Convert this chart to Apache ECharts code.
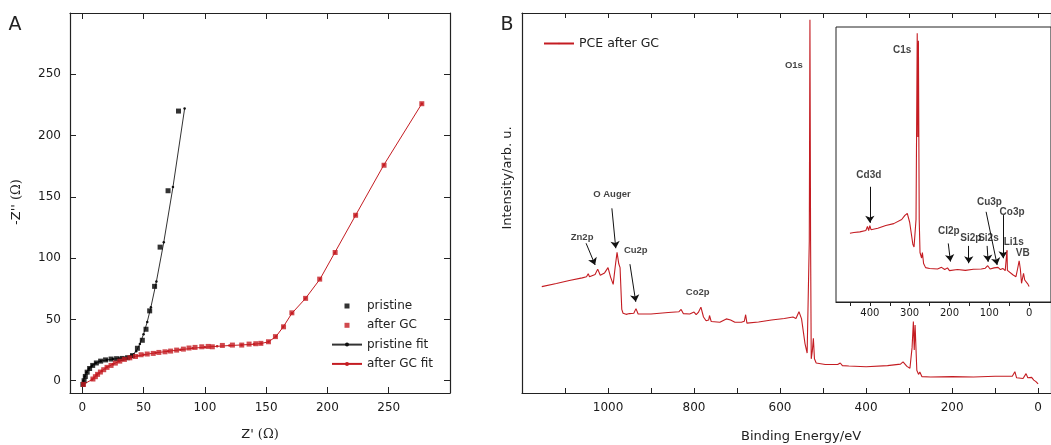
<!DOCTYPE html>
<html><head><meta charset="utf-8">
<script src="https://cdn.jsdelivr.net/npm/echarts@6/dist/echarts.min.js"></script>
<style>html,body{margin:0;padding:0;background:#fff}#c{width:1051px;height:445px}</style>
</head><body><div id="c"></div>
<script>
// ---------- Panel A : Nyquist plot ----------
const aPristineX = [0.5,1.5,2.5,4,6,8.5,11.5,15,19,23.5,28,32.5,37,41,45,49,52,55,59,63.5,70,78.5];
const aPristineY = [-3,0,3.5,7,10,12.5,14.5,16,17,17.7,18,18.2,18.8,20.5,26.5,33,42,57,77,109,155,220];
const aPristineFitX = [0,1,2,3.5,5.5,8,11,15,20,25,30,35,40,44,47,50,53,56,60.5,66.5,74,83.5];
const aPristineFitY = [-3,0,3.5,7,10,12.5,14.5,16,17,17.7,18.2,18.8,20.5,24,30,38,48,60,81,113,158,222];
const aAfterX = [1,8.7,10.7,12.5,14.8,17.5,20.2,23.5,27,30.6,34.4,38.8,43.4,48,53,57.9,62.5,67.5,72.1,77,82.5,87.1,92,97.5,102.7,106.1,114.3,122.5,130.1,136.1,141.6,145.7,151.9,157.6,164.2,171,182.2,193.7,206.3,223,246.2,277];
const aAfterY = [-3,1.4,3.3,5.2,7.1,9,10.9,12.5,14.4,16,17.4,18.7,19.8,21.2,21.8,22.3,23.1,23.6,24.2,25,25.8,26.7,27.2,27.7,28,27.7,28.8,29.1,29.1,29.9,30.2,30.5,31.8,36,44,55.4,67.2,82.9,104.6,135,175.8,226];
const aAfterFitX = [1,8,12,16,20,25,30,35,40,45,50,60,70,80,90,100,110,120,130,140,146,152,158,164,171,182,194,206,223,246,277];
const aAfterFitY = [-3,1,5,8,11,13.5,15.8,17.5,19,20.2,21.2,22.8,24,25.3,26.5,27.4,28.1,28.7,29.2,29.8,30.4,31.8,36,44,55,67,83,104.5,135,176,226];
const aTicks = [0,50,100,150,200,250];

// ---------- Panel B : XPS survey ----------
const bBE = [1154,1120,1090,1060,1050,1046,1043,1030,1024,1018,1008,1000,994,988,983,979,975,972,968,965,958,950,940,935,930,900,860,835,830,825,810,800,795,790,784,778,772,766,764,760,740,725,715,705,690,683,680,677,650,620,590,570,563,556,550,542,537,534,532,530.5,529,527.5,525,522.5,520,516,495,466,460,455,440,400,350,320,314,305,298,293,290,288,286,282,278,275,270,250,200,150,100,60,54,50,35,28,24,20,15,10,5,0];
const bInt = [28.0,28.8,29.6,30.3,30.6,31.4,30.6,31.2,32.6,31.0,31.6,33.0,30.5,28.6,33.5,37.0,34.0,33.0,22.0,21.0,20.7,20.9,21.0,22.2,20.8,20.8,21.2,21.4,22.0,20.9,20.8,21.3,20.6,21.2,22.6,20.0,19.0,19.2,20.4,18.8,18.6,19.5,19.2,18.6,18.6,18.9,20.6,18.4,18.7,19.2,19.6,20.0,19.6,21.4,19.5,13.0,10.5,11.0,40.0,98.2,40.0,9.0,11.0,14.4,9.0,7.9,7.5,7.5,7.9,7.2,7.1,6.9,7.2,7.6,8.2,7.0,6.5,12.0,18.8,11.3,17.9,6.0,4.9,5.5,4.3,4.2,4.3,4.2,4.4,4.4,5.6,4.0,3.8,5.1,4.0,3.5,4.1,3.4,3.0,2.4];
const bTicks = [0,100,200,300,400,500,600,700,800,900,1000,1100];
const bLabels = [0,200,400,600,800,1000];
const bAnnotNames = ['O1s','O Auger','Zn2p','Cu2p','Co2p'];
const bAnnotX = [567.9,990.9,1060.3,935.5,791.4];
const bAnnotY = [86.1,52.3,40.9,37.6,26.4];
const bArrowFrom = [[1051,39.4],[991,48.6],[949,33.9]];
const bArrowTo = [[1030,33.7],[982,38.1],[935.5,24.0]];

// ---------- Inset ----------
const iBE = [450,440,425,410,406,403,400,397,380,360,340,320,312,306,300,292,289,284,281,279.5,278,276,274,272,270,268,265,260,250,230,220,212,205,200,180,160,140,120,110,104,98,88,84,78,72,66,60,57,55.5,54.5,50,40,33,29,25,22,19,16,14,11,9,6,3,0];
const iInt = [25.0,25.3,25.5,26.0,27.5,26.0,27.8,26.3,26.8,27.8,28.5,30.0,31.5,32.2,29.0,21.0,20.0,30.0,97.7,60.0,95.0,30.0,18.0,18.5,16.0,18.0,14.0,12.5,12.2,12.0,12.6,11.8,12.4,11.4,11.8,11.5,11.9,12.0,12.3,13.2,12.0,12.4,11.8,12.6,11.8,12.2,11.4,12.0,18.9,11.5,11.0,9.8,9.2,12.0,15.0,12.0,6.8,9.0,10.4,8.0,7.4,8.3,6.5,5.6];
const iTicks = [0,50,100,150,200,250,300,350,400,450];
const iLabels = [0,100,200,300,400];
const iAnnotNames = ['C1s','Cd3d','Cl2p','Si2p','Si2s','Cu3p','Co3p','Li1s','VB'];
const iAnnotX = [318.7,402.5,201.8,146.3,102.1,99.6,42.7,38.6,16.1];
const iAnnotY = [91.6,46.2,25.6,23.2,23.2,36.1,32.8,21.9,17.7];
const iArrowFrom = [[400,41.9],[203,21.3],[151.6,20.4],[105.4,20.4],[108,32.8],[65.2,31.6]];
const iArrowTo = [[400,28.8],[197.5,14.7],[151.6,14.1],[102.9,14.6],[80.3,13.5],[65.2,15.9]];

const pairs = (xs, ys) => xs.map((x, i) => [x, ys[i]]);
const RED = '#c41c22';
const FONT = 'DejaVu Sans';
const plain = v => String(v);
const axLine = {show:true, onZero:false, lineStyle:{color:'#222', width:1.2}};
const noSplit = {show:false};
const SQUARE_ICON = 'path://M0,2.5L0,2.5M30,2.5L30,2.5M12.5,0L17.5,0L17.5,5L12.5,5Z';

const chart = echarts.init(document.getElementById('c'));
const option = {
  animation:false,
  backgroundColor:'#fff',
  textStyle:{fontFamily:FONT},
  grid:[
    {left:70, top:13, width:380, height:380},
    {left:522, top:13, width:532, height:380},
    {left:836, top:27, width:215, height:275, show:true, backgroundColor:'#fff', borderColor:'#222', borderWidth:1}
  ],
  legend:[
    {left:331, top:299, padding:0, orient:'vertical', itemWidth:30, itemHeight:5, itemGap:5.3, selectedMode:false,
     textStyle:{fontFamily:FONT, fontSize:12, color:'#222', lineHeight:14},
     data:[{name:'pristine', icon:SQUARE_ICON},{name:'after GC', icon:SQUARE_ICON},'pristine fit','after GC fit']},
    {left:543, top:37, padding:0, itemWidth:30, itemHeight:2, selectedMode:false,
     textStyle:{fontFamily:FONT, fontSize:12.5, color:'#222'},
     data:['PCE after GC']}
  ],
  xAxis:[
    {gridIndex:0, type:'value', min:-10, max:300, position:'bottom', axisLine:axLine,
     axisTick:{inside:true, length:6, customValues:aTicks, lineStyle:{color:'#222'}},
     axisLabel:{customValues:aTicks, formatter:plain, fontSize:12, margin:9, color:'#1a1a1a', fontFamily:FONT}, splitLine:noSplit},
    {gridIndex:0, type:'value', min:-10, max:300, position:'top', axisLine:axLine,
     axisTick:{inside:true, length:6, customValues:aTicks, lineStyle:{color:'#222'}},
     axisLabel:{show:false}, splitLine:noSplit},
    {gridIndex:1, type:'value', inverse:true, min:-30, max:1200, position:'bottom', axisLine:axLine,
     axisTick:{inside:true, length:5, customValues:bTicks, lineStyle:{color:'#222'}},
     axisLabel:{customValues:bLabels, formatter:plain, fontSize:12, margin:9, color:'#1a1a1a', fontFamily:FONT}, splitLine:noSplit},
    {gridIndex:1, type:'value', inverse:true, min:-30, max:1200, position:'top', axisLine:axLine,
     axisTick:{inside:true, length:5, customValues:bTicks, lineStyle:{color:'#222'}},
     axisLabel:{show:false}, splitLine:noSplit},
    {gridIndex:2, type:'value', inverse:true, min:-55, max:485, position:'bottom', axisLine:axLine,
     axisTick:{inside:false, length:4, customValues:iTicks, lineStyle:{color:'#222'}},
     axisLabel:{customValues:iLabels, formatter:plain, fontSize:10, margin:6, color:'#1a1a1a', fontFamily:FONT}, splitLine:noSplit}
  ],
  yAxis:[
    {gridIndex:0, type:'value', min:-10, max:300, position:'left', axisLine:axLine,
     axisTick:{inside:true, length:6, customValues:aTicks, lineStyle:{color:'#222'}},
     axisLabel:{customValues:aTicks, formatter:plain, fontSize:12, margin:9, color:'#1a1a1a', fontFamily:FONT}, splitLine:noSplit},
    {gridIndex:0, type:'value', min:-10, max:300, position:'right', axisLine:axLine,
     axisTick:{inside:true, length:6, customValues:aTicks, lineStyle:{color:'#222'}},
     axisLabel:{show:false}, splitLine:noSplit},
    {gridIndex:1, type:'value', min:0, max:100, position:'left', axisLine:axLine,
     axisTick:{show:false}, axisLabel:{show:false}, splitLine:noSplit},
    {gridIndex:1, type:'value', min:0, max:100, position:'right', axisLine:axLine,
     axisTick:{show:false}, axisLabel:{show:false}, splitLine:noSplit},
    {gridIndex:2, type:'value', min:0, max:100, position:'left', axisLine:{show:false},
     axisTick:{show:false}, axisLabel:{show:false}, splitLine:noSplit}
  ],
  series:[
    {name:'pristine', type:'scatter', xAxisIndex:0, yAxisIndex:0, symbol:'rect', symbolSize:5,
     itemStyle:{color:'#000'}, data:pairs(aPristineX, aPristineY), z:4},
    {name:'after GC', type:'scatter', xAxisIndex:0, yAxisIndex:0, symbol:'rect', symbolSize:5,
     itemStyle:{color:RED}, data:pairs(aAfterX, aAfterY), z:4},
    {name:'pristine fit', type:'line', xAxisIndex:0, yAxisIndex:0, symbol:'circle', symbolSize:2.5,
     lineStyle:{color:'#333', width:1}, itemStyle:{color:'#111'}, data:pairs(aPristineFitX, aPristineFitY), z:3},
    {name:'after GC fit', type:'line', xAxisIndex:0, yAxisIndex:0, symbol:'circle', symbolSize:2.5,
     lineStyle:{color:RED, width:1}, itemStyle:{color:RED}, data:pairs(aAfterFitX, aAfterFitY), z:3},
    {name:'PCE after GC', type:'line', xAxisIndex:2, yAxisIndex:2, symbol:'none',
     lineStyle:{color:RED, width:1.1}, itemStyle:{color:RED}, data:pairs(bBE, bInt),
     markLine:{silent:true, symbol:['none','arrow'], symbolSize:7, label:{show:false},
       lineStyle:{color:'#111', width:1, type:'solid'},
       data:bArrowFrom.map((f,i)=>[{coord:f},{coord:bArrowTo[i]}])}},
    {name:'inset', type:'line', xAxisIndex:4, yAxisIndex:4, symbol:'none', z:6,
     lineStyle:{color:RED, width:1.1}, itemStyle:{color:RED}, data:pairs(iBE, iInt),
     markLine:{silent:true, symbol:['none','arrow'], symbolSize:7, label:{show:false},
       lineStyle:{color:'#111', width:1, type:'solid'},
       data:iArrowFrom.map((f,i)=>[{coord:f},{coord:iArrowTo[i]}])}},
    {name:'bLabels', type:'scatter', xAxisIndex:2, yAxisIndex:2, symbolSize:1, silent:true, z:10,
     itemStyle:{color:'transparent'},
     data:bAnnotNames.map((n,i)=>({name:n, value:[bAnnotX[i], bAnnotY[i]]})),
     label:{show:true, position:'inside', formatter:'{b}', fontFamily:'Liberation Sans', fontWeight:'bold', fontSize:9.5, color:'#111'}},
    {name:'iLabels', type:'scatter', xAxisIndex:4, yAxisIndex:4, symbolSize:1, silent:true, z:10,
     itemStyle:{color:'transparent'},
     data:iAnnotNames.map((n,i)=>({name:n, value:[iAnnotX[i], iAnnotY[i]]})),
     label:{show:true, position:'inside', formatter:'{b}', fontFamily:'Liberation Sans', fontWeight:'bold', fontSize:10, color:'#111'}}
  ],
  graphic:[
    {type:'text', x:15, y:25, style:{text:'A', font:'19px "DejaVu Sans"', fill:'#222', align:'center', verticalAlign:'middle'}},
    {type:'text', x:507, y:25, style:{text:'B', font:'19px "DejaVu Sans"', fill:'#222', align:'center', verticalAlign:'middle'}},
    {type:'text', x:260, y:435, style:{text:"Z' {s|(Ω)}", font:'13px "DejaVu Sans"', fill:'#222', align:'center', verticalAlign:'middle',
      rich:{s:{fontFamily:'DejaVu Serif', fontSize:13, fill:'#222'}}}},
    {type:'text', x:17, y:202, rotation:Math.PI/2, style:{text:"-Z'' {s|(Ω)}", font:'13px "DejaVu Sans"', fill:'#222', align:'center', verticalAlign:'middle',
      rich:{s:{fontFamily:'DejaVu Serif', fontSize:13, fill:'#222'}}}},
    {type:'text', x:801, y:437, style:{text:'Binding Energy/eV', font:'13px "DejaVu Sans"', fill:'#222', align:'center', verticalAlign:'middle'}},
    {type:'text', x:508, y:178, rotation:Math.PI/2, style:{text:'Intensity/arb. u.', font:'13px "DejaVu Sans"', fill:'#222', align:'center', verticalAlign:'middle'}}
  ]
};
chart.setOption(option);
</script>
</body></html>
